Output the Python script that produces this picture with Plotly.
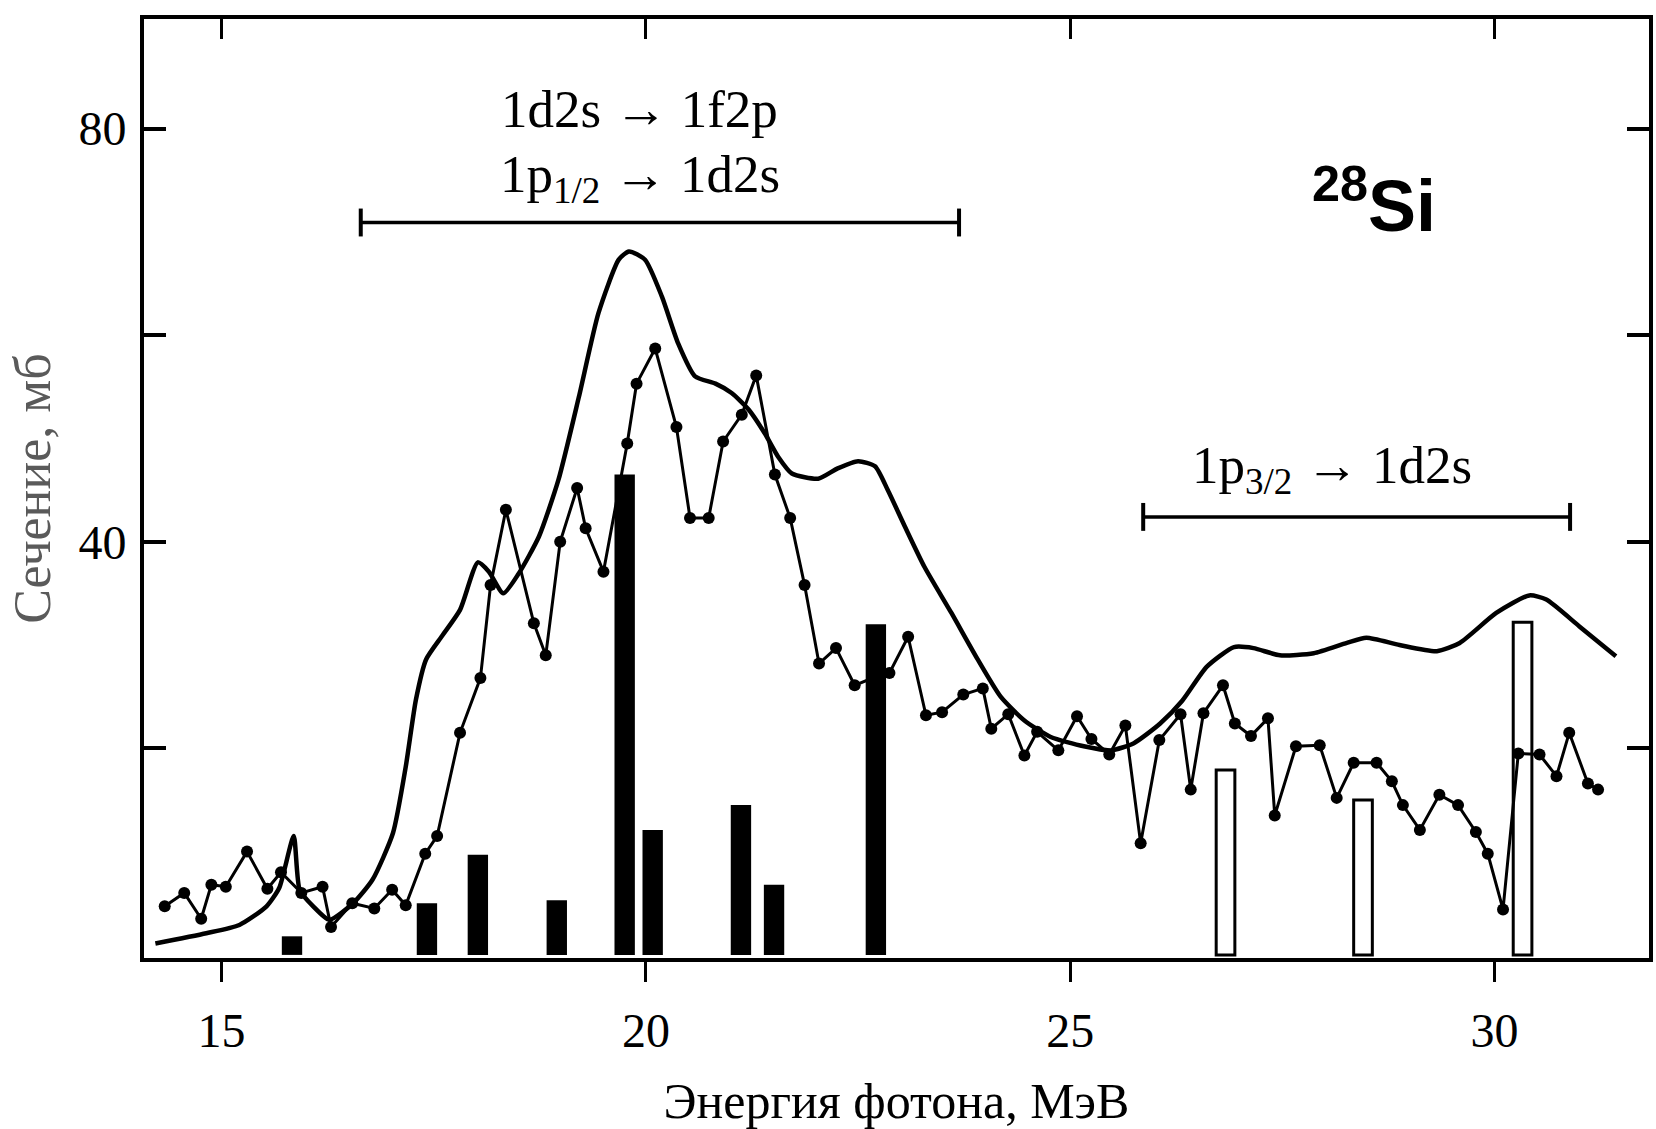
import plotly.graph_objects as go

# ---------------- data ----------------
# theoretical smooth curve
theory_e = [14.22, 14.82, 15.21, 15.53, 15.68, 15.85, 15.92, 16.08, 16.27, 16.55,
            16.78, 17.02, 17.17, 17.29, 17.41, 17.60, 17.81, 18.02, 18.15, 18.32,
            18.50, 18.74, 18.97, 19.21, 19.44, 19.68, 19.80, 19.99, 20.19, 20.38,
            20.58, 20.82, 21.01, 21.21, 21.40, 21.56, 21.72, 22.03, 22.26, 22.50,
            22.70, 22.85, 23.05, 23.28, 23.60, 23.91, 24.18, 24.46, 24.77, 25.16,
            25.48, 25.75, 26.06, 26.32, 26.61, 26.93, 27.16, 27.47, 27.87, 28.26,
            28.49, 28.88, 29.32, 29.59, 30.02, 30.41, 30.61, 31.00, 31.43]
theory_s = [1.1, 2.1, 2.9, 4.7, 6.5, 11.5, 6.3, 4.7, 3.4, 5.0,
            7.3, 11.8, 18.2, 24.7, 28.6, 30.9, 33.4, 38.0, 37.1, 35.0,
            36.9, 40.5, 46.0, 54.0, 62.1, 67.3, 68.1, 67.3, 63.7, 59.2,
            56.0, 55.3, 54.4, 52.8, 50.5, 48.2, 46.6, 46.1, 47.1, 47.8,
            47.3, 45.0, 41.5, 37.6, 33.1, 28.6, 25.0, 22.7, 21.1, 20.2,
            19.8, 20.5, 22.4, 24.6, 27.9, 29.8, 29.7, 29.0, 29.2, 30.2,
            30.7, 30.0, 29.4, 30.2, 33.1, 34.8, 34.4, 31.8, 28.9]

# experimental points
exp_e = [14.33, 14.56, 14.76, 14.88, 15.05, 15.30, 15.54, 15.70, 15.94, 16.19,
         16.29, 16.54, 16.80, 17.01, 17.17, 17.40, 17.54, 17.81, 18.05, 18.17,
         18.35, 18.68, 18.82, 18.99, 19.19, 19.29, 19.50, 19.78, 19.89, 20.11,
         20.36, 20.52, 20.74, 20.91, 21.13, 21.30, 21.52, 21.70, 21.87, 22.04,
         22.24, 22.46, 22.70, 22.87, 23.09, 23.30, 23.49, 23.74, 23.97, 24.07,
         24.27, 24.46, 24.61, 24.86, 25.08, 25.25, 25.46, 25.65, 25.83, 26.05,
         26.30, 26.42, 26.57, 26.80, 26.94, 27.13, 27.33, 27.41, 27.66, 27.94,
         28.14, 28.34, 28.61, 28.79, 28.92, 29.12, 29.35, 29.57, 29.78, 29.92,
         30.10, 30.28, 30.53, 30.73, 30.88, 31.10, 31.22]
exp_s = [4.7, 6.0, 3.5, 6.8, 6.6, 10.0, 6.4, 8.0, 6.0, 6.6,
         2.7, 5.0, 4.5, 6.3, 4.8, 9.8, 11.5, 21.5, 26.8, 35.8,
         43.1, 32.1, 29.0, 40.0, 45.2, 41.3, 37.1, 49.5, 55.3, 58.7,
         51.1, 42.3, 42.3, 49.7, 52.3, 56.1, 46.5, 42.3, 35.8, 28.2,
         29.7, 26.1, 26.9, 27.3, 30.8, 23.2, 23.5, 25.2, 25.8, 21.9,
         23.3, 19.3, 21.6, 19.8, 23.1, 20.9, 19.4, 22.2, 10.8, 20.8,
         23.3, 16.0, 23.4, 26.1, 22.4, 21.2, 22.9, 13.5, 20.2, 20.3,
         15.2, 18.6, 18.6, 16.8, 14.5, 12.1, 15.5, 14.5, 11.9, 9.8,
         4.4, 19.5, 19.4, 17.3, 21.5, 16.6, 16.0]

# transition strengths (filled bars: 1d2s->1f2p, 1p1/2->1d2s; open bars: 1p3/2->1d2s)
solid_e = [15.83, 17.42, 18.02, 18.95, 19.75, 20.08, 21.12, 21.51, 22.71]
solid_h = [1.8, 5.0, 9.7, 5.3, 46.5, 12.1, 14.5, 6.8, 32.0]
open_e = [26.83, 28.45, 30.33]
open_h = [17.9, 15.0, 32.2]

x_ticks = [15, 20, 25, 30]
x_ticklabels = ["15", "20", "25", "30"]
y_ticks = [20, 40, 60, 80]
y_ticklabels = ["", "40", "", "80"]

SERIF = "Liberation Serif, Times New Roman, serif"

fig = go.Figure()

fig.add_trace(go.Bar(x=solid_e, y=solid_h, width=0.24,
                     marker=dict(color="black", line=dict(width=0)),
                     hoverinfo="skip"))
fig.add_trace(go.Bar(x=open_e, y=open_h, width=0.22,
                     marker=dict(color="white", line=dict(color="black", width=3)),
                     hoverinfo="skip"))
fig.add_trace(go.Scatter(x=theory_e, y=theory_s, mode="lines",
                         line=dict(color="black", width=4.5, shape="spline", smoothing=0.6),
                         hoverinfo="skip"))
fig.add_trace(go.Scatter(x=exp_e, y=exp_s, mode="lines+markers",
                         line=dict(color="black", width=3),
                         marker=dict(color="black", size=12, symbol="circle"),
                         hoverinfo="skip"))
# helper trace for the mirrored (top/right) axes
fig.add_trace(go.Scatter(x=[None], y=[None], xaxis="x2", yaxis="y2",
                         mode="markers", showlegend=False, hoverinfo="skip"))

# brackets marking the transition ranges
brackets = [(16.64, 23.69, 70.9), (25.86, 30.89, 42.4)]
cap = 1.35
for x0, x1, yb in brackets:
    fig.add_shape(type="line", x0=x0, x1=x1, y0=yb, y1=yb, xref="x", yref="y",
                  line=dict(color="black", width=3.5))
    for xc in (x0, x1):
        fig.add_shape(type="line", x0=xc, x1=xc, y0=yb - cap, y1=yb + cap,
                      xref="x", yref="y", line=dict(color="black", width=4))

fig.add_annotation(x=19.93, y=81.9, xref="x", yref="y", showarrow=False,
                   text="1d2s \u2192 1f2p", font=dict(family=SERIF, size=53, color="black"))
fig.add_annotation(x=19.93, y=75.2, xref="x", yref="y", showarrow=False,
                   text="1p<sub>1/2</sub> \u2192 1d2s", font=dict(family=SERIF, size=53, color="black"))
fig.add_annotation(x=28.09, y=47.0, xref="x", yref="y", showarrow=False,
                   text="1p<sub>3/2</sub> \u2192 1d2s", font=dict(family=SERIF, size=53, color="black"))
fig.add_annotation(x=28.58, y=73.0, xref="x", yref="y", showarrow=False,
                   text="<b><sup>28</sup>Si</b>",
                   font=dict(family="Liberation Sans, Arial, sans-serif", size=72, color="black"))

fig.update_layout(
    width=1656, height=1129,
    margin=dict(l=144, r=3, t=19, b=171),
    paper_bgcolor="white", plot_bgcolor="white",
    showlegend=False, barmode="overlay",
    xaxis=dict(range=[14.086, 31.82], tickvals=x_ticks, ticktext=x_ticklabels,
               ticks="outside", ticklen=20, tickwidth=3, tickcolor="black",
               showline=True, linewidth=4, linecolor="black", mirror=True,
               showgrid=False, zeroline=False, ticklabelstandoff=7,
               tickfont=dict(family=SERIF, size=48, color="black"),
               title=dict(text="Энергия фотона, МэВ", standoff=34,
                          font=dict(family=SERIF, size=50, color="black"))),
    xaxis2=dict(matches="x", overlaying="x", side="top", tickvals=x_ticks,
                ticks="inside", ticklen=20, tickwidth=3, tickcolor="black",
                showticklabels=False, showline=False, showgrid=False, zeroline=False),
    yaxis=dict(range=[-0.3, 90.6], tickvals=y_ticks, ticktext=y_ticklabels,
               ticks="inside", ticklen=22, tickwidth=4, tickcolor="black",
               showline=True, linewidth=4, linecolor="black", mirror=True,
               showgrid=False, zeroline=False, ticklabelstandoff=4,
               tickfont=dict(family=SERIF, size=48, color="black"),
               title=dict(text="Сечение, мб", standoff=12,
                          font=dict(family=SERIF, size=52, color="#5a5a5a"))),
    yaxis2=dict(matches="y", overlaying="y", side="right", tickvals=y_ticks,
                ticks="inside", ticklen=22, tickwidth=4, tickcolor="black",
                showticklabels=False, showline=False, showgrid=False, zeroline=False),
)

fig.write_html("out.html")
